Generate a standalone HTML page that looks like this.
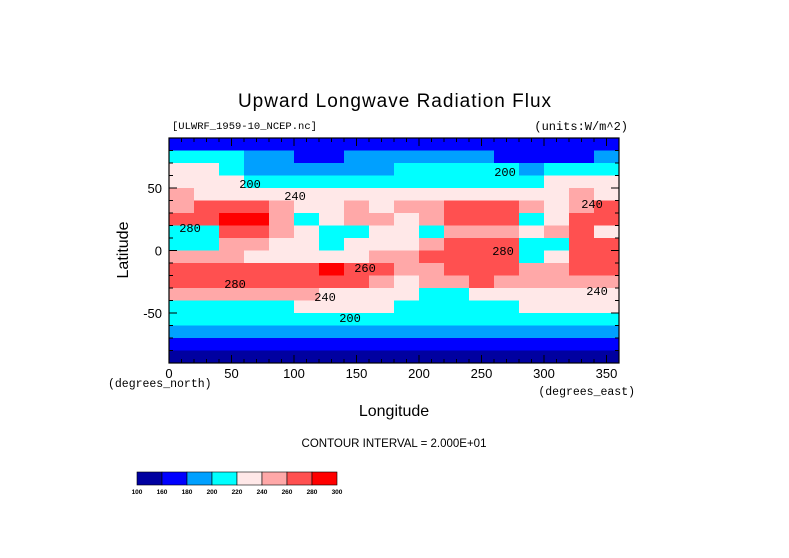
<!DOCTYPE html>
<html><head><meta charset="utf-8"><style>
body{margin:0;background:#fff;}
svg{display:block;font-family:"Liberation Sans",sans-serif;}
</style></head><body>
<svg id="chart" width="789" height="558" viewBox="0 0 789 558">
<text x="395" y="107" text-anchor="middle" font-size="19" letter-spacing="1">Upward Longwave Radiation Flux</text>
<text x="172" y="129" font-size="10.5" font-family="Liberation Mono">[ULWRF_1959-10_NCEP.nc]</text>
<text x="628" y="130" text-anchor="end" font-size="12" font-family="Liberation Mono">(units:W/m^2)</text>
<g id="cells"></g>
<g id="ticks"></g>
<g id="clabels" font-size="12" font-family="Liberation Mono"></g>
<rect x="169" y="138" width="450" height="225" fill="none" stroke="#000" stroke-width="1.2"/>
<text transform="translate(128,250) rotate(-90)" text-anchor="middle" font-size="16">Latitude</text>
<text x="108" y="387" font-size="11.5" font-family="Liberation Mono">(degrees_north)</text>
<text x="635" y="395" text-anchor="end" font-size="11.5" font-family="Liberation Mono">(degrees_east)</text>
<text x="394" y="416" text-anchor="middle" font-size="16">Longitude</text>
<text x="394" y="447" text-anchor="middle" font-size="11.5">CONTOUR INTERVAL = 2.000E+01</text>
<g id="cbar"></g>
</svg>
<script>
const levels=[100,160,180,200,220,240,260,280,300];
const levelColors=["#0000a0","#0000ff","#00a0ff","#00ffff","#ffe8e8","#ffa8a8","#ff5050","#ff0000"];
const lons=[10,30,50,70,90,110,130,150,170,190,210,230,250,270,290,310,330,350];
const lats=[85,75,65,55,45,35,25,15,5,-5,-15,-25,-35,-45,-55,-65,-75,-85];
const values=[
[175,175,175,175,175,175,175,175,175,175,175,175,175,175,175,175,170,170],
[210,210,210,190,190,175,170,190,190,190,190,190,190,175,175,160,160,190],
[230,225,200,195,190,180,185,190,195,205,210,200,200,205,195,205,210,210],
[235,230,220,210,210,210,210,205,210,210,205,210,205,210,215,225,230,230],
[240,235,232,232,235,235,230,235,235,230,232,235,232,230,230,235,240,238],
[255,260,270,270,245,230,235,245,235,248,240,265,268,265,250,235,258,265],
[260,265,285,282,240,215,235,250,252,235,250,270,272,262,215,235,268,268],
[200,205,260,262,245,225,205,215,230,225,210,240,245,240,238,250,265,230],
[200,215,250,240,232,232,215,230,230,232,250,272,272,262,205,215,262,262],
[240,250,245,235,230,230,232,238,250,252,260,272,275,268,215,235,268,268],
[262,265,268,265,260,262,285,275,265,245,245,265,270,262,250,255,265,265],
[262,265,265,265,262,262,265,262,255,235,240,258,262,258,250,248,250,250],
[248,248,250,248,245,240,235,235,232,228,215,210,225,230,232,235,238,236],
[210,210,212,212,215,220,222,220,222,212,210,208,210,215,222,225,225,225],
[200,200,200,200,200,200,200,200,200,205,205,200,200,200,205,205,210,210],
[185,185,185,185,185,185,185,185,185,185,185,185,185,185,185,185,185,185],
[170,170,170,170,170,170,170,170,170,170,170,170,170,170,170,170,170,170],
[150,150,150,150,150,150,150,150,150,150,150,150,150,150,150,150,150,150]];
const latTicks=[50,0,-50];
const lonTicks=[0,50,100,150,200,250,300,350];
const cbarLabels=["100","160","180","200","220","240","260","280","300"];
const NS="http://www.w3.org/2000/svg";
const X0=169,X1=619,Y0=138,Y1=363;
const xS=lon=>X0+lon*(X1-X0)/360;
const yS=lat=>Y0+(90-lat)*(Y1-Y0)/180;
function colorFor(v){for(let i=levels.length-2;i>=0;i--){if(v>=levels[i])return levelColors[i];}return levelColors[0];}
const cells=document.getElementById('cells');
values.forEach((row,r)=>row.forEach((v,c)=>{
 const el=document.createElementNS(NS,'rect');
 el.setAttribute('x',xS(lons[c]-10));el.setAttribute('y',yS(lats[r]+5));
 el.setAttribute('width',xS(20)-xS(0)+0.5);el.setAttribute('height',yS(0)-yS(10)+0.5);
 el.setAttribute('fill',colorFor(v));
 
 
 cells.appendChild(el);
}));
const ticks=document.getElementById('ticks');
function line(x1,y1,x2,y2){const l=document.createElementNS(NS,'line');l.setAttribute('x1',x1);l.setAttribute('y1',y1);l.setAttribute('x2',x2);l.setAttribute('y2',y2);l.setAttribute('stroke','#000');
 
 
 ticks.appendChild(l);}
for(let lon=10;lon<360;lon+=10){const L=lon%50===0?8:4;line(xS(lon),Y0,xS(lon),Y0+L);line(xS(lon),Y1,xS(lon),Y1-L);}
for(let lat=-80;lat<=80;lat+=10){const L=lat%50===0?8:4;line(X0,yS(lat),X0+L,yS(lat));line(X1,yS(lat),X1-L,yS(lat));}
function txt(parent,x,y,s,anchor,size,name){const t=document.createElementNS(NS,'text');t.setAttribute('x',x);t.setAttribute('y',y);t.setAttribute('text-anchor',anchor);t.setAttribute('font-size',size);t.textContent=s;
 
 
 parent.appendChild(t);return t;}
latTicks.forEach(v=>txt(ticks,162,yS(v)+5,String(v),'end',13,'y-tick-label'));
lonTicks.forEach(v=>txt(ticks,xS(v),378,String(v),'middle',13,'x-tick-label'));
const cl=document.getElementById('clabels');
[[250,188,'200'],[295,200,'240'],[190,232,'280'],[235,288,'280'],[325,301,'240'],[350,322,'200'],[505,176,'200'],[592,208,'240'],[503,255,'280'],[597,295,'240'],[365,272,'260']].forEach(a=>txt(cl,a[0],a[1],a[2],'middle',12,'contour-label'));
const cb=document.getElementById('cbar');
levelColors.forEach((c,i)=>{const r=document.createElementNS(NS,'rect');r.setAttribute('x',137+i*25);r.setAttribute('y',472);r.setAttribute('width',25);r.setAttribute('height',13);r.setAttribute('fill',c);r.setAttribute('stroke','#000');r.setAttribute('stroke-width','0.6');
 
 
 cb.appendChild(r);});
cbarLabels.forEach((s,i)=>{const t=txt(cb,137+i*25,494,s,'middle',6.5,'colorbar-label');t.setAttribute('font-weight','bold');});
</script>
</body></html>
